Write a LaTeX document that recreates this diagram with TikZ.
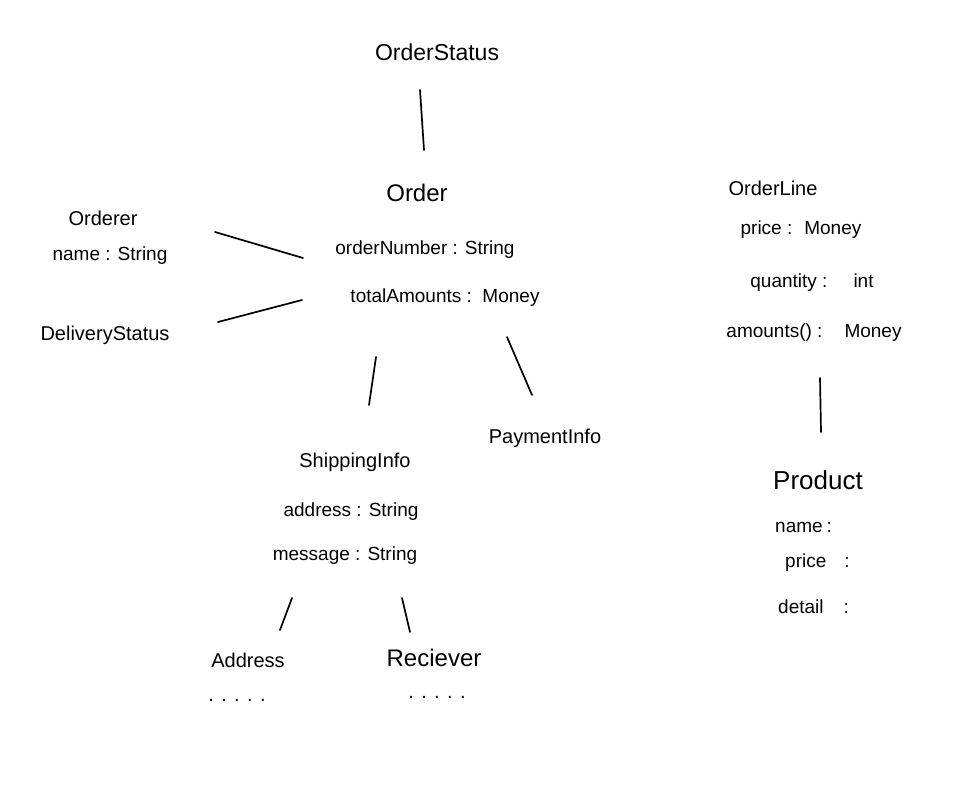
\documentclass[tikz,border=0pt]{standalone}
\usepackage{fontspec}
\setmainfont{Liberation Sans}
\usetikzlibrary{calc}
\begin{document}
\begin{tikzpicture}[x=1pt,y=-1pt,
  lbl/.style={inner sep=0pt, font=\fontsize{20}{24}\selectfont},
  attr/.style={inner sep=0pt, font=\fontsize{19}{23}\selectfont},
  big/.style={inner sep=0pt, font=\fontsize{24}{28}\selectfont},
  stroke/.style={line width=1.7pt, line cap=round}]
\useasboundingbox[fill=white] (0,0) rectangle (968,789);
% Order aggregate
\node[big,font=\fontsize{23}{27}\selectfont] (os) at (437,52) {OrderStatus};
\node[big] (order) at (417,193) {Order};
\node[attr] (onum) at (425,250) {orderNumber : String};
\node[attr] (tot) at (445,298) {totalAmounts :\ \ Money};
% Orderer / DeliveryStatus
\node[lbl] (orderer) at (103,218) {Orderer};
\node[attr] (oname) at (110,256) {name : String};
\node[lbl] (deliv) at (105,335) {DeliveryStatus};
% Shipping / Payment
\node[lbl] (pay) at (545,438) {PaymentInfo};
\node[lbl] (ship) at (355,462) {ShippingInfo};
\node[attr] (addr) at (351,512) {address : String};
\node[attr] (msg) at (345,556) {message : String};
\node[lbl] (address) at (248,660) {Address};
\node[lbl] (adots) at (237,700) {. . . . .};
\node[big] (recv) at (434,658) {Reciever};
\node[lbl] (rdots) at (437,697) {. . . . .};
% OrderLine / Product
\node[lbl] (ol) at (773,188) {OrderLine};
\node[attr] (olp) at (801,230) {price :\hspace{12pt}Money};
\node[attr] (olq) at (812,283) {quantity :\hspace{26pt}int};
\node[attr] (ola) at (814,333) {amounts() :\hspace{22pt}Money};
\node[big,font=\fontsize{26}{30}\selectfont] (prod) at (818,480) {Product};
\node[attr,anchor=west] (pn) at (775,527) {name\hspace{4pt}:};
\node[attr,anchor=west] (pp) at (785,563) {price\hspace{18pt}:};
\node[attr,anchor=west] (pd) at (778,607) {detail\hspace{20pt}:};
% connectors
\draw[stroke] ($(os)+(-17,38)$) -- ($(order)+(7,-43)$);
\draw[stroke] ($(oname)+(105,-24)$) -- ($(onum)+(-122,8)$);
\draw[stroke] ($(deliv)+(113,-13)$) -- ($(tot)+(-143,2)$);
\draw[stroke] ($(tot)+(-69,59)$) -- ($(ship)+(14,-57)$);
\draw[stroke] ($(tot)+(62,39)$) -- ($(pay)+(-13,-43)$);
\draw[stroke] ($(msg)+(-53,42)$) -- ($(address)+(32,-30)$);
\draw[stroke] ($(msg)+(57,42)$) -- ($(recv)+(-24,-26)$);
\draw[stroke] ($(ola)+(6,45)$) -- ($(prod)+(3,-48)$);
\end{tikzpicture}
\end{document}
